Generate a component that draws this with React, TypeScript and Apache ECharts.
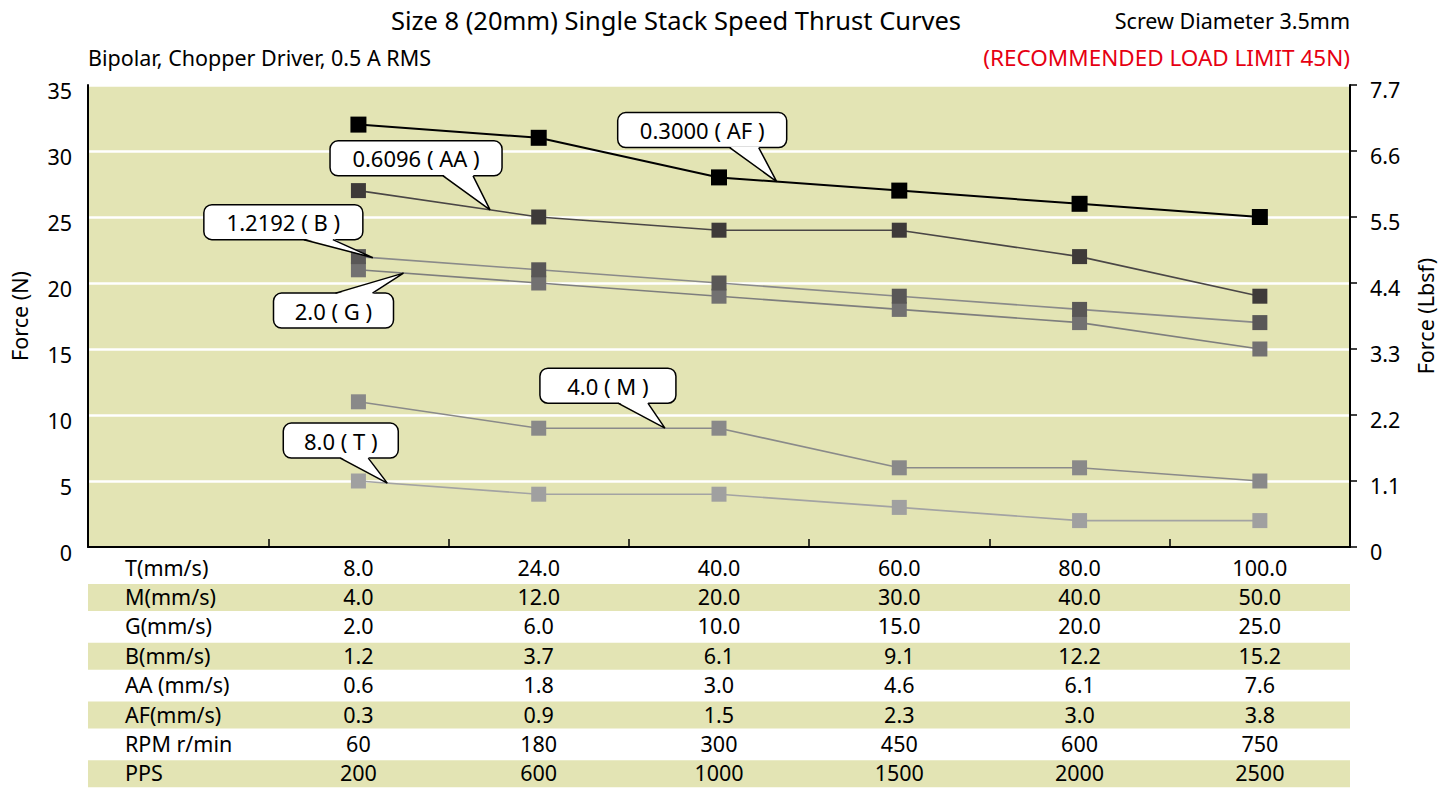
import React, { useEffect, useRef } from 'react';
import * as echarts from 'echarts';

// ---------- data ----------
const categories = ['', '8.0', '24.0', '40.0', '60.0', '80.0', '100.0'];

const seriesNames = ['AF', 'AA', 'B', 'G', 'M', 'T'];
const afForce = [32, 31, 28, 27, 26, 25];
const aaForce = [27, 25, 24, 24, 22, 19];
const bForce = [22, 21, 20, 19, 18, 17];
const gForce = [21, 20, 19, 18, 17, 15];
const mForce = [11, 9, 9, 6, 6, 5];
const tForce = [5, 4, 4, 3, 2, 2];

const leftTicks = { min: 0, max: 35, interval: 5 };
const rightTicks = { min: 0, max: 7.7, interval: 1.1 };

const calloutTexts = ['0.3000 ( AF )', '0.6096 ( AA )', '1.2192 ( B )', '2.0 ( G )', '4.0 ( M )', '8.0 ( T )'];
// position of callout pointer tip along each series, in data-index units
const calloutAt = [2.32, 0.73, 0.08, 0.25, 1.7, 0.16];

const tableLabels = ['T(mm/s)', 'M(mm/s)', 'G(mm/s)', 'B(mm/s)', 'AA (mm/s)', 'AF(mm/s)', 'RPM r/min', 'PPS'];
const tRow = ['8.0', '24.0', '40.0', '60.0', '80.0', '100.0'];
const mRow = ['4.0', '12.0', '20.0', '30.0', '40.0', '50.0'];
const gRow = ['2.0', '6.0', '10.0', '15.0', '20.0', '25.0'];
const bRow = ['1.2', '3.7', '6.1', '9.1', '12.2', '15.2'];
const aaRow = ['0.6', '1.8', '3.0', '4.6', '6.1', '7.6'];
const afRow = ['0.3', '0.9', '1.5', '2.3', '3.0', '3.8'];
const rpmRow = ['60', '180', '300', '450', '600', '750'];
const ppsRow = ['200', '600', '1000', '1500', '2000', '2500'];

const titleText = 'Size 8 (20mm) Single Stack Speed Thrust Curves';
const subtitleText = 'Bipolar, Chopper Driver, 0.5 A RMS';
const screwText = 'Screw Diameter 3.5mm';
const limitText = '(RECOMMENDED LOAD LIMIT 45N)';

// ---------- styles ----------
const W = 1456;
const H = 788;
const FONT = "'Noto Sans', 'Open Sans', sans-serif";
const FS = 21.5;
const BG = '#e3e4b4';
const markerColors = ['#000000', '#3e3a39', '#595757', '#727171', '#898989', '#a0a0a0'];
const lineColors = ['#000000', '#4a4646', '#8a8a8a', '#7e7e7e', '#8a8a8a', '#a3a3a3'];
const markerSizes = [16, 15, 15, 15, 15, 15];
const lineWidths = [2, 1.6, 1.6, 1.6, 1.6, 1.6];
// callout box geometry relative to the pointer tip: [left, top, width, height, base0, base1, pointsUp]
const calloutBoxes = [
  [-159, -69, 169, 35, -47, -18, 0],
  [-160, -69, 172, 35, -47, -17, 0],
  [-169, -53, 159, 35, -69, -40, 0],
  [-130, 20, 120, 35, -68, -31, 1],
  [-125, -60, 136, 35, -47, -17, 0],
  [-104, -60, 115, 35, -47, -19, 0],
];
const GRID = { left: 88, right: 106, top: 85, bottom: 241 };
const ROW_FIRST = 20;
const ROW_STEP = 29.4;
const ROW_H = 27;

export default function App() {
  const ref = useRef<HTMLDivElement>(null);

  useEffect(() => {
    const chart = echarts.init(ref.current!, null, { renderer: 'svg' });
    const allForce = [afForce, aaForce, bForce, gForce, mForce, tForce];

    chart.setOption({
      animation: false,
      backgroundColor: '#ffffff',
      textStyle: { fontFamily: FONT },
      grid: {
        left: GRID.left,
        right: GRID.right,
        top: GRID.top,
        bottom: GRID.bottom,
        show: true,
        backgroundColor: BG,
        borderWidth: 0,
      },
      xAxis: {
        type: 'category',
        data: categories,
        boundaryGap: true,
        axisLine: { lineStyle: { color: '#000', width: 2 } },
        axisTick: { show: true, inside: true, length: 8, interval: 0, lineStyle: { color: '#000', width: 1.5 } },
        axisLabel: { show: false },
        splitLine: { show: false },
      },
      yAxis: [
        {
          type: 'value',
          position: 'left',
          ...leftTicks,
          name: 'Force (N)',
          nameLocation: 'middle',
          nameRotate: 90,
          nameGap: 58,
          nameTextStyle: { fontSize: FS, color: '#000', fontFamily: FONT },
          axisLine: { show: true, lineStyle: { color: '#000', width: 2 } },
          axisTick: { show: false },
          axisLabel: { fontSize: FS, color: '#000', margin: 16, fontFamily: FONT, verticalAlign: 'top', lineHeight: 10 },
          splitLine: { show: true, lineStyle: { color: '#ffffff', width: 2.5 } },
        },
        {
          type: 'value',
          position: 'right',
          ...rightTicks,
          name: 'Force (Lbsf)',
          nameLocation: 'middle',
          nameRotate: 90,
          nameGap: 64,
          nameTextStyle: { fontSize: FS, color: '#000', fontFamily: FONT },
          axisLine: { show: true, lineStyle: { color: '#000', width: 2 } },
          axisTick: { show: true, inside: false, length: 7, lineStyle: { color: '#000', width: 1.5 } },
          axisLabel: {
            fontSize: FS,
            color: '#000',
            margin: 20,
            fontFamily: FONT,
            verticalAlign: 'top',
            lineHeight: 8,
            formatter: (v: number) => (v === 0 ? '0' : v.toFixed(1)),
          },
          splitLine: { show: false },
        },
      ],
      series: allForce.map((vals, i) => ({
        name: seriesNames[i],
        type: 'line',
        yAxisIndex: 0,
        data: ['-', ...vals],
        symbol: 'rect',
        symbolSize: markerSizes[i],
        itemStyle: { color: markerColors[i] },
        lineStyle: { color: lineColors[i], width: lineWidths[i] },
        z: 10 - i,
      })),
    });

    const px = (cat: number, v: number) =>
      chart.convertToPixel({ xAxisIndex: 0, yAxisIndex: 0 }, [cat, v]) as number[];

    const graphics: any[] = [];

    // header texts
    graphics.push(
      { type: 'text', style: { text: titleText, x: 676, y: 20, align: 'center', verticalAlign: 'middle', font: `25.5px ${FONT}`, fill: '#000' } },
      { type: 'text', style: { text: subtitleText, x: GRID.left, y: 57, align: 'left', verticalAlign: 'middle', font: `${FS}px ${FONT}`, fill: '#000' } },
      { type: 'text', style: { text: screwText, x: W - GRID.right, y: 20, align: 'right', verticalAlign: 'middle', font: `${FS}px ${FONT}`, fill: '#000' } },
      { type: 'text', style: { text: limitText, x: W - GRID.right, y: 57, align: 'right', verticalAlign: 'middle', font: `22.5px ${FONT}`, fill: '#e60012' } }
    );

    // table below the chart
    const bottomY = px(1, 0)[1];
    const leftX = GRID.left;
    const rightX = W - GRID.right;
    const rows = [tRow, mRow, gRow, bRow, aaRow, afRow, rpmRow, ppsRow];
    rows.forEach((row, r) => {
      const cy = bottomY + ROW_FIRST + r * ROW_STEP;
      if (r % 2 === 1) {
        graphics.push({
          type: 'rect',
          shape: { x: leftX, y: cy - ROW_H / 2 + 1, width: rightX - leftX, height: ROW_H },
          style: { fill: BG },
          z: 1,
        });
      }
      graphics.push({
        type: 'text',
        style: { text: tableLabels[r], x: 125, y: cy, align: 'left', verticalAlign: 'middle', font: `${FS}px ${FONT}`, fill: '#000' },
        z: 2,
      });
      row.forEach((val, k) => {
        const x = px(k + 1, 0)[0];
        graphics.push({
          type: 'text',
          style: { text: val, x, y: cy, align: 'center', verticalAlign: 'middle', font: `${FS}px ${FONT}`, fill: '#000' },
          z: 2,
        });
      });
    });

    // callouts
    allForce.forEach((vals, i) => {
      const t = calloutAt[i];
      const i0 = Math.floor(t);
      const f = t - i0;
      const p0 = px(i0 + 1, vals[i0]);
      const p1 = px(i0 + 2, vals[i0 + 1]);
      const tx = p0[0] + (p1[0] - p0[0]) * f;
      const ty = p0[1] + (p1[1] - p0[1]) * f;
      const [bl, bt, bw, bh, b0, b1, up] = calloutBoxes[i];
      const bx = tx + bl;
      const by = ty + bt;
      const edge = up ? by : by + bh;
      const inner = up ? edge + 1.2 : edge - 1.2;
      graphics.push(
        {
          type: 'rect',
          shape: { x: bx, y: by, width: bw, height: bh, r: 8 },
          style: { fill: '#fff', stroke: '#000', lineWidth: 1.5 },
          z: 100,
        },
        {
          type: 'polygon',
          shape: { points: [[tx + b0, inner], [tx, ty], [tx + b1, inner]] },
          style: { fill: '#fff' },
          z: 101,
        },
        {
          type: 'polyline',
          shape: { points: [[tx + b0, edge], [tx, ty], [tx + b1, edge]] },
          style: { stroke: '#000', lineWidth: 1.5, fill: null },
          z: 102,
        },
        {
          type: 'text',
          style: {
            text: calloutTexts[i],
            x: bx + bw / 2,
            y: by + bh / 2,
            align: 'center',
            verticalAlign: 'middle',
            font: `22px ${FONT}`,
            fill: '#000',
          },
          z: 103,
        }
      );
    });

    chart.setOption({ graphic: graphics });

    return () => chart.dispose();
  }, []);

  return (
    <div
      ref={ref}
      style={{ position: 'fixed', left: 0, top: 0, width: W, height: H, background: '#fff' }}
    />
  );
}
